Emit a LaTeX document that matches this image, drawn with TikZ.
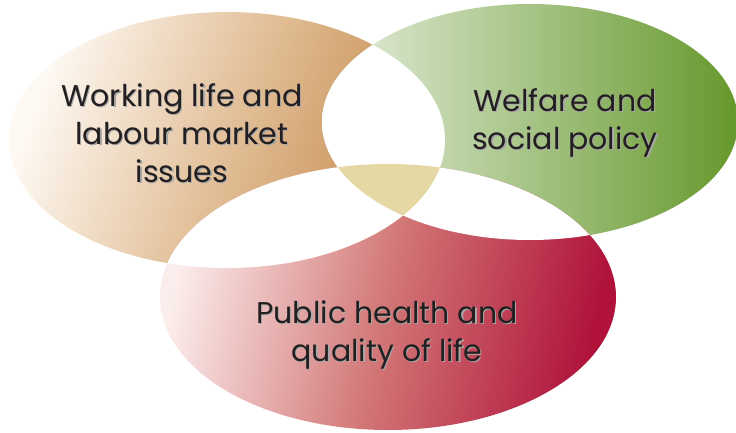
\documentclass[tikz,border=0pt]{standalone}
\usepackage{fontspec}
\newfontfamily\vennfont{Poppins}
\definecolor{brownlt}{HTML}{FEF9F3}
\definecolor{brownmd}{HTML}{E2BF98}
\definecolor{browndk}{HTML}{C4884A}
\definecolor{greenlt}{HTML}{E6EFDF}
\definecolor{greendk}{HTML}{66982C}
\definecolor{redlt}{HTML}{FBEDEB}
\definecolor{redmd}{HTML}{D27676}
\definecolor{reddk}{HTML}{B0123A}
\definecolor{centre}{HTML}{E5D8A5}
\definecolor{inkdark}{HTML}{231F20}
\definecolor{inkshadow}{HTML}{A8A8A8}
\begin{document}
\begin{tikzpicture}[x=1pt,y=1pt,
    wlsize/.style={x radius=218, y radius=128},
    wfsize/.style={x radius=208, y radius=118},
    phsize/.style={x radius=228, y radius=133},
    lbl/.style={font=\vennfont\fontsize{30}{38}\selectfont, align=center, text=inkdark},
    lblshadow/.style={lbl, text=inkshadow, xshift=1.2pt, yshift=-1.2pt}]
  \useasboundingbox (0,0) rectangle (736,432);
  \coordinate (wl) at (227,292);
  \coordinate (wf) at (530,310);
  \coordinate (ph) at (388,135);
  \shade[left color=brownlt, right color=browndk, middle color=brownmd, shading angle=70] (wl) ellipse [wlsize];
  \shade[left color=greenlt, right color=greendk] (wf) ellipse [wfsize];
  \shade[left color=redlt, right color=reddk, middle color=redmd, shading angle=78] (ph) ellipse [phsize];
  \begin{scope}
    \clip (wl) ellipse [wlsize];
    \fill[white] (wf) ellipse [wfsize];
    \fill[white] (ph) ellipse [phsize];
  \end{scope}
  \begin{scope}
    \clip (wf) ellipse [wfsize];
    \fill[white] (ph) ellipse [phsize];
  \end{scope}
  \begin{scope}
    \clip (wl) ellipse [wlsize];
    \clip (wf) ellipse [wfsize];
    \fill[centre] (ph) ellipse [phsize];
  \end{scope}
  \node[lblshadow] (workshadow) at (182,299) {Working life and\\labour market\\issues};
  \node[lbl] (work) at (182,299) {Working life and\\labour market\\issues};
  \node[lblshadow] (welfareshadow) at (565,309) {Welfare and\\social policy};
  \node[lbl] (welfare) at (565,309) {Welfare and\\social policy};
  \node[lblshadow] (healthshadow) at (387,97) {Public health and\\quality of life};
  \node[lbl] (health) at (387,97) {Public health and\\quality of life};
\end{tikzpicture}
\end{document}
